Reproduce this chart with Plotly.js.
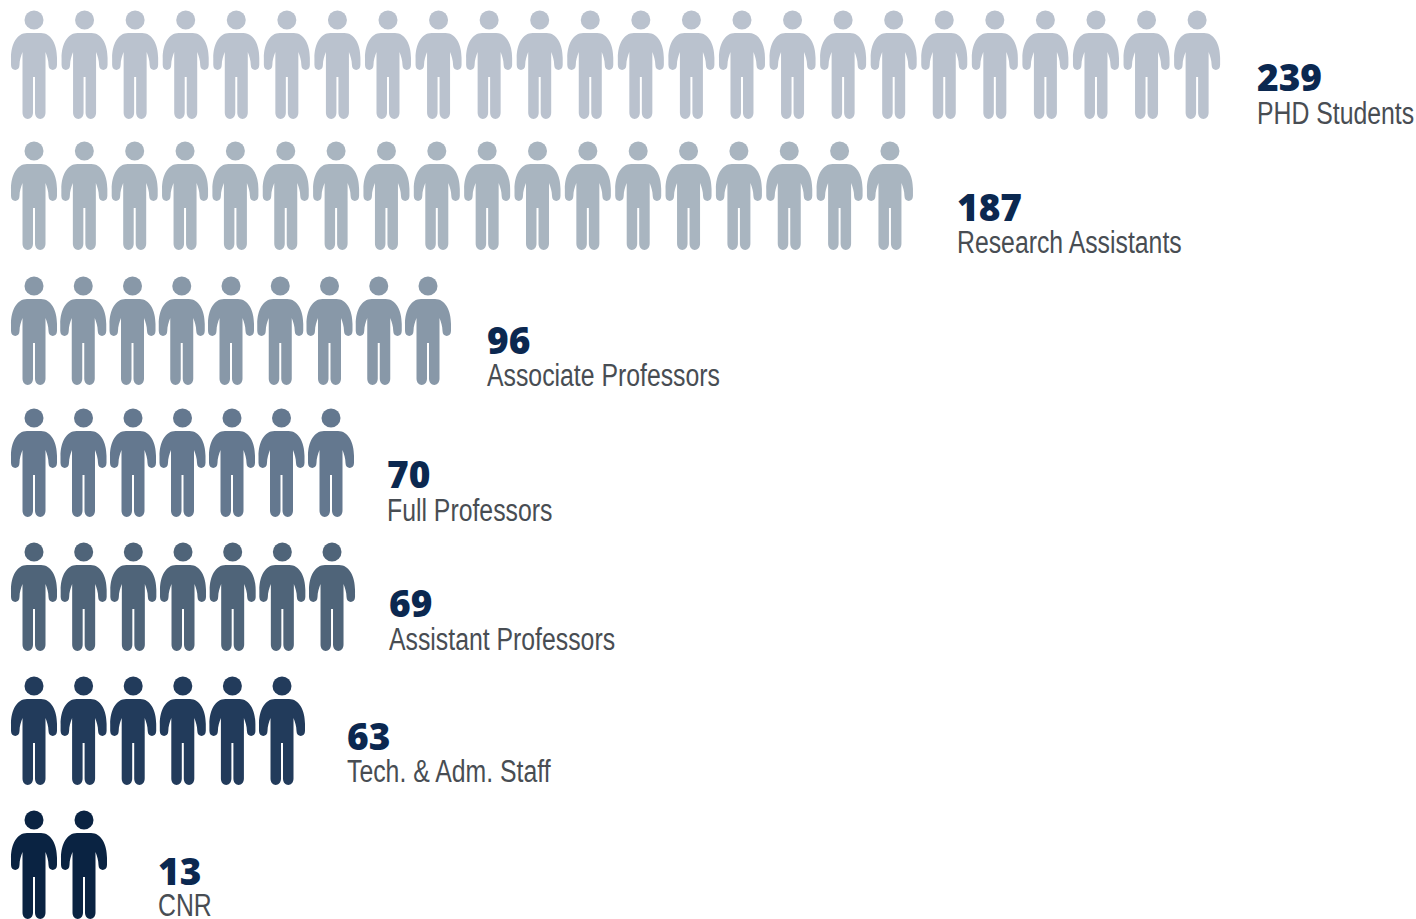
<!DOCTYPE html>
<html>
<head>
<meta charset="utf-8">
<script src="https://cdn.plot.ly/plotly-3.0.1.min.js"></script>
<style>html,body{margin:0;padding:0;background:#fff}#chart{width:1416px;height:919px}</style>
</head>
<body>
<div id="chart"></div>
<script>
// Data
const categories = ["PHD Students","Research Assistants","Associate Professors","Full Professors","Assistant Professors","Tech. & Adm. Staff","CNR"];
const values = [239,187,96,70,69,63,13];
const iconCounts = [24,18,9,7,7,6,2];

// Layout and style (axis units equal pixels of the page)
const colors = ["#BAC2CE","#A9B5C0","#8898A8","#64788F","#4F6479","#223B5B","#0A2342"];
const headY = [20,151,286,418,552,686,820];
const firstX = 34;
const pitch = [50.57,50.35,49.25,49.5,49.67,49.6,50];
const labelX = [1257,957,487,387,389,347,158];
const numberY = [82,212,345,479,608,741,876];
const nameY = [116,245,378,513,642,774,908];
const nameCondense = 0.8;

// Person body outline, pixels relative to the head centre (y downward here, flipped for the shape)
function pt(x,y){return x+","+(-y);}
const bodyPath = "M"+pt(-7,13)+
  " C"+pt(-17,13)+" "+pt(-23,24)+" "+pt(-23,38)+
  " L"+pt(-23,45)+
  " C"+pt(-23,51.5)+" "+pt(-14.5,51.5)+" "+pt(-14.5,45)+
  " C"+pt(-14.5,40)+" "+pt(-13,36)+" "+pt(-11.5,32)+
  " L"+pt(-11.5,92.5)+
  " C"+pt(-11.5,101)+" "+pt(-1,101)+" "+pt(-1,92.5)+
  " L"+pt(-1,57)+" L"+pt(1,57)+" L"+pt(1,92.5)+
  " C"+pt(1,101)+" "+pt(11.5,101)+" "+pt(11.5,92.5)+
  " L"+pt(11.5,32)+
  " C"+pt(13,36)+" "+pt(14.5,40)+" "+pt(14.5,45)+
  " C"+pt(14.5,51.5)+" "+pt(23,51.5)+" "+pt(23,45)+
  " L"+pt(23,38)+
  " C"+pt(23,24)+" "+pt(17,13)+" "+pt(7,13)+" Z";

const traces = [];
const shapes = [];
categories.forEach((name,r)=>{
  const xs = [], ys = [];
  for(let i=0;i<iconCounts[r];i++){
    const x = firstX + i*pitch[r];
    xs.push(x); ys.push(headY[r]);
    shapes.push({type:"path",xref:"x",yref:"y",xsizemode:"pixel",ysizemode:"pixel",
      xanchor:x,yanchor:headY[r],path:bodyPath,fillcolor:colors[r],line:{width:0},layer:"above"});
  }
  traces.push({type:"scatter",mode:"markers",name:name,x:xs,y:ys,hoverinfo:"name",
    marker:{symbol:"circle",size:19,color:colors[r],line:{width:0}},cliponaxis:false});
});
traces.push({type:"scatter",mode:"text",x:labelX,y:numberY,text:values.map(String),textposition:"middle right",
  textfont:{family:"'Open Sans',sans-serif",size:37,weight:800,color:"#0B2850"},hoverinfo:"skip",cliponaxis:false});
traces.push({type:"scatter",mode:"text",x:labelX,y:nameY,text:categories,textposition:"middle right",
  textfont:{family:"'Liberation Sans',sans-serif",size:31,color:"#484D53"},hoverinfo:"skip",cliponaxis:false});

const layout = {
  width:1416,height:919,margin:{l:0,r:0,t:0,b:0},showlegend:false,
  paper_bgcolor:"#fff",plot_bgcolor:"#fff",
  xaxis:{range:[0,1416],visible:false,fixedrange:true},
  yaxis:{range:[919,0],visible:false,fixedrange:true},
  shapes:shapes
};
Plotly.newPlot("chart",traces,layout,{displayModeBar:false,staticPlot:true}).then(()=>{
  // The original label face is condensed; narrow the real text nodes to match
  const groups = document.querySelectorAll(".scatterlayer .trace");
  groups[groups.length-1].querySelectorAll(".textpoint text").forEach(t=>{
    t.setAttribute("textLength", t.getComputedTextLength()*nameCondense);
    t.setAttribute("lengthAdjust","spacingAndGlyphs");
  });
});
</script>
</body>
</html>
